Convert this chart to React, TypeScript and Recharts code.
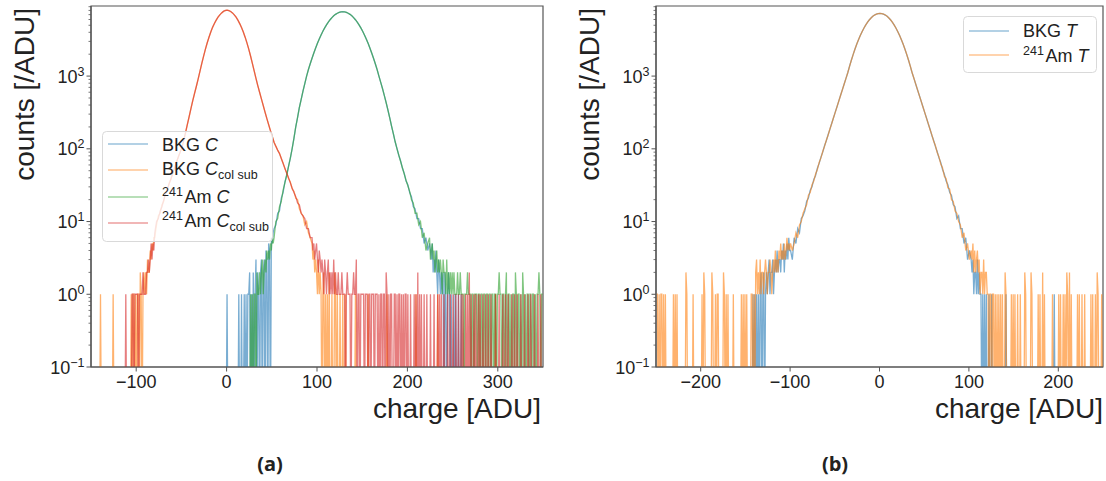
import React from "react";
import { LineChart, Line, XAxis, YAxis, Legend, ReferenceArea } from "recharts";

// ---- panel (a): collected charge per pixel, 1 ADU bins ----
// cores are read every 2 ADU, tails are listed bin by bin
const colSubCoreStart = -80;
const amCsubCore = [
  7, 10, 11, 14, 16, 20, 24, 28, 33, 39, 46, 55, 65, 77, 89, 104, 129, 166, 214, 275,
  355, 457, 575, 720, 910, 1160, 1480, 1870, 2330, 2850, 3420, 4040, 4680, 5280, 5890, 6460, 6950, 7400, 7750, 7980,
  8070,
  7960, 7740, 7390, 6940, 6450, 5880, 5270, 4670, 4040, 3430, 2860, 2350, 1890, 1500, 1180, 930, 740, 600, 485, 395,
  320, 262, 215, 178, 148, 123, 108, 96, 86, 74, 63, 54, 46, 40, 34, 29, 25, 22, 18, 17,
  13, 12, 11, 8, 8, 6,
];
const bkgCsubCore = [
  6, 9, 12, 13, 17, 19, 25, 27, 34, 38, 47, 54, 66, 76, 90, 103, 130, 165, 215, 274,
  356, 456, 576, 719, 911, 1159, 1481, 1869, 2331, 2849, 3421, 4039, 4681, 5279, 5891, 6459, 6951, 7399, 7751, 7979,
  8068,
  7961, 7739, 7391, 6939, 6451, 5879, 5271, 4669, 4041, 3429, 2861, 2349, 1891, 1499, 1181, 929, 741, 599, 486, 394,
  321, 261, 216, 177, 149, 122, 109, 95, 87, 73, 64, 53, 47, 39, 35, 28, 26, 21, 20, 15,
  13, 12, 9, 10, 7, 6,
];
const rawCoreStart = 52;
const amCCore = [
  6, 10, 11, 16, 19, 27, 34, 44, 57, 75, 100, 140, 200, 270, 370, 480, 620, 790, 1000, 1230,
  1480, 1760, 2080, 2440, 2820, 3240, 3680, 4140, 4600, 5070, 5530, 5960, 6370, 6750, 7060, 7310, 7500, 7620,
  7660,
  7620, 7500, 7310, 7060, 6750, 6370, 5960, 5530, 5070, 4600, 4140, 3680, 3240, 2820, 2440, 2080, 1760, 1480, 1230, 1000,
  820, 670, 540, 430, 340, 265, 205, 160, 125, 100, 82, 67, 55, 45, 37, 31, 26, 20, 18, 13,
  13, 9, 10, 6, 7, 4, 5,
];
const bkgCCore = [
  8, 9, 13, 14, 21, 25, 35, 43, 58, 74, 101, 139, 201, 269, 371, 479, 621, 789, 1001, 1229,
  1481, 1759, 2081, 2439, 2821, 3239, 3681, 4139, 4601, 5069, 5531, 5959, 6371, 6749, 7061, 7309, 7501, 7619,
  7662,
  7619, 7501, 7309, 7061, 6749, 6371, 5959, 5531, 5069, 4601, 4139, 3681, 3239, 2821, 2439, 2081, 1759, 1481, 1229, 1001,
  819, 671, 539, 431, 339, 266, 204, 161, 124, 101, 81, 68, 54, 46, 36, 32, 25, 22, 16, 15,
  11, 11, 8, 8, 5, 6, 4,
];

// [bin, count]
const bkgCsubTail = [
  [-140, 1], [-126, 1], [-106, 1], [-104, 1], [-103, 1], [-101, 1], [-99, 1], [-98, 1], [-96, 2], [-95, 1],
  [-93, 1], [-92, 2], [-91, 1], [-90, 2], [-89, 1], [-88, 3], [-87, 2], [-86, 2], [-85, 4], [-84, 3],
  [-83, 5], [-82, 4], [-81, 6],
  [94, 5], [95, 3], [96, 4], [97, 2], [98, 3], [99, 2], [100, 1], [101, 3], [102, 1], [103, 2], [104, 1],
  [106, 1], [107, 2], [109, 1], [111, 1], [113, 2], [116, 1], [119, 2], [120, 1], [122, 1], [125, 1],
  [128, 1], [131, 1], [142, 1], [156, 1], [177, 1], [209, 1], [233, 1], [297, 1],
];
const amCsubTail = [
  [-112, 1], [-105, 1], [-104, 1], [-102, 1], [-101, 1], [-100, 1], [-99, 1], [-97, 1], [-96, 1], [-95, 1],
  [-94, 1], [-93, 2], [-92, 1], [-91, 1], [-90, 1], [-89, 2], [-88, 2], [-87, 3], [-86, 2], [-85, 3],
  [-84, 5], [-83, 3], [-82, 5], [-81, 4],
  [94, 6], [95, 4], [96, 5], [97, 3], [98, 4], [99, 5], [100, 3], [101, 2], [102, 4], [103, 3], [104, 2],
  [105, 3], [106, 2], [107, 1], [108, 3], [109, 2], [110, 1], [111, 2], [112, 3], [113, 1], [114, 2],
  [115, 1], [116, 2], [117, 1], [118, 3], [119, 1], [120, 2], [121, 1], [122, 1], [123, 2], [124, 1],
  [125, 1], [126, 1], [127, 2], [128, 1], [129, 1], [130, 1], [132, 1], [133, 2], [134, 1], [135, 1],
  [136, 1], [138, 1], [139, 1], [140, 2], [141, 1], [142, 1], [143, 3], [145, 1], [146, 1], [148, 1],
  [149, 1], [150, 1], [151, 1], [153, 1], [154, 1], [155, 1], [157, 1], [158, 1], [160, 1], [161, 1],
  [162, 1], [164, 1], [165, 1], [166, 1], [168, 1], [170, 1], [171, 1], [173, 1], [174, 1], [176, 2],
  [177, 1], [179, 1], [181, 1], [182, 1], [185, 1], [186, 1], [188, 1], [190, 1], [191, 1], [193, 1],
  [195, 1], [197, 1], [198, 1], [200, 1], [203, 1], [207, 1], [209, 1], [211, 2], [213, 1], [215, 1],
  [218, 1], [221, 1], [225, 1], [229, 1], [233, 1], [235, 1], [237, 1], [240, 1], [244, 1], [247, 1],
  [250, 1], [253, 1], [256, 1], [259, 1], [261, 1], [264, 1], [266, 1], [268, 2], [270, 1], [273, 1],
  [275, 1], [278, 1], [280, 1], [283, 1], [286, 1], [289, 1], [292, 1], [297, 1], [301, 1], [305, 1],
  [308, 1], [311, 1], [315, 1], [318, 1], [321, 1], [325, 1], [329, 1], [333, 1], [336, 1], [340, 1],
  [344, 1], [347, 1],
];
const amCTail = [
  [26, 1], [28, 1], [30, 1], [31, 1], [33, 2], [34, 1], [35, 1], [36, 2], [37, 1], [38, 2], [39, 3],
  [40, 1], [41, 2], [42, 3], [43, 2], [44, 4], [45, 3], [46, 4], [47, 3], [48, 5], [49, 4], [50, 6], [51, 5],
  [224, 6], [225, 3], [226, 4], [227, 5], [228, 3], [229, 4], [230, 2], [231, 3], [232, 4], [233, 2],
  [234, 3], [235, 2], [236, 3], [237, 2], [238, 1], [239, 3], [240, 2], [241, 2], [242, 1], [243, 3],
  [244, 1], [245, 2], [246, 1], [247, 2], [248, 1], [249, 2], [250, 1], [251, 2], [252, 1], [253, 1],
  [254, 1], [255, 2], [256, 1], [257, 1], [258, 2], [259, 1], [260, 1], [261, 1], [263, 1], [264, 1],
  [265, 1], [266, 2], [267, 1], [268, 1], [269, 1], [271, 1], [272, 1], [274, 1], [275, 1], [276, 1],
  [278, 1], [279, 1], [281, 1], [282, 1], [284, 1], [285, 1], [287, 1], [288, 1], [290, 1], [291, 1],
  [293, 1], [294, 1], [296, 1], [297, 1], [299, 1], [300, 1], [301, 2], [302, 1], [303, 1], [305, 1],
  [306, 1], [308, 1], [309, 2], [311, 1], [312, 1], [314, 1], [316, 1], [317, 1], [319, 2], [320, 1],
  [322, 1], [323, 1], [325, 1], [327, 2], [328, 1], [330, 1], [332, 1], [333, 1], [335, 1], [336, 1],
  [338, 1], [339, 1], [341, 1], [343, 1], [344, 1], [345, 2], [346, 1], [348, 1], [349, 1],
];
const bkgCTail = [
  [0, 1], [13, 1], [16, 1], [19, 1], [21, 1], [23, 1], [24, 1], [25, 2], [27, 1], [29, 2], [31, 1],
  [32, 3], [34, 2], [35, 1], [37, 2], [38, 3], [40, 2], [41, 3], [43, 4], [44, 3], [46, 5], [47, 4],
  [49, 6], [50, 5], [51, 7],
  [224, 5], [225, 4], [226, 3], [227, 5], [228, 2], [229, 3], [230, 2], [231, 4], [232, 2], [233, 1],
  [234, 3], [235, 2], [236, 1], [237, 2], [238, 1], [239, 2], [241, 2], [242, 1], [244, 1], [245, 2],
  [246, 1], [248, 1], [251, 1], [253, 1], [256, 1], [259, 1],
];

// ---- panel (b): T, 1 ADU bins ----
const tCoreStart = -100;
const bkgTCore = [
  4, 3, 6, 5, 8, 7, 11, 12, 14, 19, 21, 27, 30, 38, 43, 54, 63, 77, 90, 110,
  129, 156, 185, 223, 265, 319, 379, 456, 544, 651, 777, 931, 1110, 1364, 1649, 1976, 2336, 2734, 3158, 3613,
  4075, 4550, 5025, 5484, 5909, 6298, 6633, 6909, 7113, 7239,
  7280,
  7237, 7115, 6907, 6635, 6296, 5911, 5482, 5027, 4548, 4077, 3611, 3160, 2732, 2338, 1974, 1651, 1362, 1112, 929, 779,
  649, 546, 454, 381, 317, 267, 221, 187, 154, 131, 108, 92, 75, 65, 52, 45, 36, 32, 25, 23,
  17, 16, 11, 12, 8, 8, 5, 6, 3, 4,
];
const amTCore = [
  5, 4, 5, 7, 6, 9, 10, 13, 15, 17, 23, 25, 32, 36, 45, 52, 65, 75, 92, 108,
  131, 154, 187, 221, 267, 317, 381, 454, 546, 649, 779, 929, 1112, 1362, 1651, 1974, 2338, 2732, 3160, 3611,
  4077, 4548, 5027, 5482, 5911, 6296, 6635, 6907, 7115, 7237,
  7282,
  7240, 7112, 6910, 6632, 6299, 5908, 5485, 5024, 4551, 4074, 3614, 3157, 2735, 2335, 1977, 1648, 1365, 1109, 932, 776,
  652, 543, 457, 378, 320, 264, 224, 184, 157, 128, 111, 89, 78, 62, 55, 42, 39, 29, 28, 20,
  19, 14, 13, 10, 9, 6, 7, 4, 5, 3,
];
const bkgTTail = [
  [-142, 1], [-140, 1], [-138, 1], [-136, 1], [-134, 1], [-133, 2], [-131, 1], [-130, 2], [-128, 1],
  [-127, 2], [-126, 1], [-125, 2], [-124, 3], [-123, 1], [-122, 2], [-121, 2], [-120, 3], [-119, 1],
  [-118, 2], [-117, 3], [-116, 2], [-115, 4], [-114, 2], [-113, 3], [-112, 3], [-111, 2], [-110, 4],
  [-109, 3], [-108, 5], [-107, 2], [-106, 4], [-105, 3], [-104, 5], [-103, 3], [-102, 6], [-101, 4],
  [102, 3], [103, 2], [104, 3], [105, 1], [106, 2], [107, 2], [108, 1], [109, 3], [110, 1], [111, 2],
  [112, 1], [113, 1], [115, 1], [117, 1], [119, 1], [122, 1], [125, 1], [141, 1], [195, 1],
];
const amTTail = [
  [-250, 1], [-249, 1], [-247, 1], [-245, 1], [-244, 1], [-242, 1], [-240, 1], [-231, 1], [-229, 1],
  [-227, 1], [-217, 2], [-216, 1], [-209, 1], [-199, 1], [-197, 2], [-196, 1], [-188, 2], [-187, 1],
  [-184, 1], [-182, 1], [-181, 1], [-175, 2], [-174, 1], [-172, 1], [-170, 1], [-164, 1], [-155, 1],
  [-153, 1], [-151, 1], [-149, 1], [-144, 1], [-143, 1], [-141, 1], [-139, 2], [-138, 3], [-137, 1],
  [-136, 2], [-135, 1], [-134, 3], [-133, 1], [-132, 2], [-131, 2], [-130, 1], [-129, 2], [-128, 3],
  [-127, 2], [-126, 1], [-125, 2], [-124, 2], [-123, 3], [-122, 2], [-121, 1], [-120, 2], [-119, 3],
  [-118, 2], [-117, 4], [-116, 2], [-115, 3], [-114, 2], [-113, 4], [-112, 3], [-111, 5], [-110, 3],
  [-109, 4], [-108, 3], [-107, 5], [-106, 3], [-105, 4], [-104, 6], [-103, 4], [-102, 5], [-101, 4],
  [102, 4], [103, 3], [104, 5], [105, 2], [106, 4], [107, 2], [108, 3], [109, 4], [110, 2], [111, 3],
  [112, 1], [113, 2], [114, 2], [115, 1], [116, 3], [117, 1], [118, 2], [119, 2], [120, 1], [121, 1],
  [123, 1], [124, 1], [126, 1], [127, 1], [129, 1], [131, 1], [133, 1], [135, 1], [137, 1], [140, 2],
  [141, 1], [147, 1], [149, 1], [151, 1], [154, 1], [157, 1], [162, 2], [163, 1], [169, 2], [170, 1],
  [177, 1], [179, 1], [182, 2], [184, 1], [193, 1], [200, 1], [202, 1], [205, 1], [207, 1], [209, 2],
  [210, 1], [212, 2], [214, 1], [221, 1], [223, 1], [226, 1], [229, 1], [236, 1], [238, 1], [241, 1],
  [243, 2], [244, 1], [248, 1],
];

// axes
const xRangeA = [-150, 350];
const xTicksA = [-100, 0, 100, 200, 300];
const xRangeB = [-250, 250];
const xTicksB = [-200, -100, 0, 100, 200];
const yRange = [0.1, 9200];
const yMajor = [0.1, 1, 10, 100, 1000];
const yMinor = [
  0.2, 0.3, 0.4, 0.5, 0.6, 0.7, 0.8, 0.9, 2, 3, 4, 5, 6, 7, 8, 9,
  20, 30, 40, 50, 60, 70, 80, 90, 200, 300, 400, 500, 600, 700, 800, 900,
  2000, 3000, 4000, 5000, 6000, 7000, 8000, 9000,
];

const EMPTY = 0.01; // empty bin, sits below the 10^-1 floor so the trace drops out of the frame
const FONT = "'Liberation Sans', Arial, sans-serif";
const INK = "#222";
const FRAME = "#555";
const C = { blue: "#1f77b4", orange: "#ff7f0e", green: "#2ca02c", red: "#d62728" };

type Hist = { coreLo: number; coreHi: number; bins: Map<number, number> };

function hist(coreStart: number, core: number[], tail: number[][]): Hist {
  const bins = new Map<number, number>();
  core.forEach((c, i) => bins.set(coreStart + 2 * i, c));
  tail.forEach(([b, c]) => bins.set(b, c));
  // a core value stands for its bin and the next one
  return { coreLo: coreStart, coreHi: coreStart + 2 * (core.length - 1) + 1, bins };
}

// one row per 1 ADU bin, placed at the bin centre; bins inside a core that were not
// read on their own are left open (null) and the line joins across them
function buildRows(lo: number, hi: number, hists: Record<string, Hist>) {
  const rows: Record<string, number | null>[] = [];
  for (let b = lo; b < hi; b++) {
    const row: Record<string, number | null> = { x: b + 0.5 };
    for (const k in hists) {
      const h = hists[k];
      const v = h.bins.get(b);
      if (v !== undefined) row[k] = v;
      else row[k] = b > h.coreLo && b <= h.coreHi ? null : EMPTY;
    }
    rows.push(row);
  }
  return rows;
}

const dataA = buildRows(xRangeA[0], xRangeA[1], {
  bkgC: hist(rawCoreStart, bkgCCore, bkgCTail),
  bkgCsub: hist(colSubCoreStart, bkgCsubCore, bkgCsubTail),
  amC: hist(rawCoreStart, amCCore, amCTail),
  amCsub: hist(colSubCoreStart, amCsubCore, amCsubTail),
});
const dataB = buildRows(xRangeB[0], xRangeB[1], {
  bkgT: hist(tCoreStart, bkgTCore, bkgTTail),
  amT: hist(tCoreStart, amTCore, amTTail),
});

const minus = (v: number) => (v < 0 ? "\u2212" + Math.abs(v) : String(v));

const XTick = (p: any) => {
  const { x, y, payload } = p;
  return (
    <g>
      <line x1={x} x2={x} y1={y} y2={y + 4.5} stroke={FRAME} strokeWidth={1} />
      <text x={x} y={y + 21} textAnchor="middle" fontSize={18} fill={INK} fontFamily={FONT}>
        {minus(payload.value)}
      </text>
    </g>
  );
};

const YTick = (p: any) => {
  const { x, y, payload } = p;
  const v = payload.value;
  if (!yMajor.includes(v)) {
    return <line x1={x - 2.5} x2={x} y1={y} y2={y} stroke={FRAME} strokeWidth={0.8} />;
  }
  const e = Math.round(Math.log10(v));
  return (
    <g>
      <line x1={x - 4.5} x2={x} y1={y} y2={y} stroke={FRAME} strokeWidth={1} />
      <text x={x - 6.5} y={y + 6.5} textAnchor="end" fontSize={18} fill={INK} fontFamily={FONT}>
        10
        <tspan dy={-7} fontSize={12.5}>
          {minus(e)}
        </tspan>
      </text>
    </g>
  );
};

type Series = { key: string; color: string; label: React.ReactNode };

const Sup = ({ t }: { t: string }) => (
  <>
    <tspan dy={-7} fontSize={12.5}>
      {t}
    </tspan>
    <tspan dy={7}>{"\u200A"}</tspan>
  </>
);
const Sub = ({ t }: { t: string }) => (
  <tspan dy={4} fontSize={12.5}>
    {t}
  </tspan>
);

const seriesA: Series[] = [
  { key: "bkgC", color: C.blue, label: <>BKG <tspan fontStyle="italic">C</tspan></> },
  { key: "bkgCsub", color: C.orange, label: <>BKG <tspan fontStyle="italic">C</tspan><Sub t="col sub" /></> },
  { key: "amC", color: C.green, label: <><Sup t="241" />Am <tspan fontStyle="italic">C</tspan></> },
  { key: "amCsub", color: C.red, label: <><Sup t="241" />Am <tspan fontStyle="italic">C</tspan><Sub t="col sub" /></> },
];
const seriesB: Series[] = [
  { key: "bkgT", color: C.blue, label: <>BKG <tspan fontStyle="italic">T</tspan></> },
  { key: "amT", color: C.orange, label: <><Sup t="241" />Am <tspan fontStyle="italic">T</tspan></> },
];

type Box = { left: number; top: number; width: number; height: number; rows: number[]; baselines: number[] };

const LegendBox = ({ series, box }: { series: Series[]; box: Box }) => (
  <svg width={box.width} height={box.height} style={{ display: "block" }}>
    <rect x={0.5} y={0.5} width={box.width - 1} height={box.height - 1} rx={4}
      fill="rgba(255,255,255,0.8)" stroke="#d9d9d9" />
    {series.map((s, i) => (
      <g key={s.key}>
        <line x1={6} x2={46} y1={box.rows[i]} y2={box.rows[i]} stroke={s.color} strokeOpacity={0.45} strokeWidth={1.6} />
        <text x={60} y={box.baselines[i]} fontSize={18} fill={INK} fontFamily={FONT}>
          {s.label}
        </text>
      </g>
    ))}
  </svg>
);

function Panel(props: {
  width: number; right: number; data: Record<string, number | null>[]; xRange: number[]; xTicks: number[];
  series: Series[]; box: Box;
}) {
  const { width, right, data, xRange, xTicks, series, box } = props;
  const yTicks = [...yMajor, ...yMinor];
  return (
    <LineChart width={width} height={440} data={data} margin={{ top: 6, right, bottom: 0, left: 0 }}>
      <XAxis dataKey="x" type="number" domain={xRange} ticks={xTicks} interval={0} allowDataOverflow
        height={73} tickSize={0} tickMargin={0} tickLine={false} tick={(p: any) => <XTick {...p} />}
        axisLine={{ stroke: FRAME, strokeWidth: 1.2 }} />
      <YAxis type="number" scale="log" domain={yRange} allowDataOverflow ticks={yTicks} interval={0}
        width={91} tickSize={0} tickMargin={0} tickLine={false} tick={(p: any) => <YTick {...p} />}
        axisLine={{ stroke: FRAME, strokeWidth: 1.2 }} />
      {series.map((s) => (
        <Line key={s.key} dataKey={s.key} type="linear" connectNulls stroke={s.color} strokeOpacity={0.6}
          strokeWidth={1.3} dot={false} activeDot={false} isAnimationActive={false} />
      ))}
      <ReferenceArea x1={xRange[0]} x2={xRange[1]} y1={yRange[0]} y2={yRange[1]} ifOverflow="visible"
        fill="none" fillOpacity={0} stroke={FRAME} strokeWidth={1.2} />
      <Legend layout="horizontal" verticalAlign="middle" align="center"
        wrapperStyle={{ left: box.left, top: box.top, width: box.width, height: box.height }}
        content={() => <LegendBox series={series} box={box} />} />
    </LineChart>
  );
}

const boxA: Box = { left: 102, top: 131, width: 171, height: 111, rows: [13, 39, 66, 92], baselines: [20, 44, 72, 96] };
const boxB: Box = { left: 398, top: 16, width: 134, height: 57, rows: [15, 39], baselines: [21, 46] };

export default function App() {
  return (
    <div style={{ position: "absolute", left: 0, top: 0, width: 1106, height: 481, background: "#fff", overflow: "hidden" }}>
      <div style={{ position: "absolute", left: 0, top: 0 }}>
        <Panel width={560} right={17} data={dataA} xRange={xRangeA} xTicks={xTicksA} series={seriesA} box={boxA} />
      </div>
      <div style={{ position: "absolute", left: 565, top: 0 }}>
        <Panel width={541} right={3} data={dataB} xRange={xRangeB} xTicks={xTicksB} series={seriesB} box={boxB} />
      </div>
      <svg width={1106} height={481} style={{ position: "absolute", left: 0, top: 0, pointerEvents: "none" }}>
        <g fontFamily={FONT} fontSize={28} fill={INK}>
          <text x={541} y={418} textAnchor="end">charge [ADU]</text>
          <text transform="translate(34,8) rotate(-90)" textAnchor="end">counts [/ADU]</text>
          <text x={1103} y={418} textAnchor="end">charge [ADU]</text>
          <text transform="translate(599,8) rotate(-90)" textAnchor="end">counts [/ADU]</text>
        </g>
        <g fontFamily="'Open Sans', sans-serif" fontWeight={700} fontSize={20} fill={INK} textAnchor="middle">
          <text x={270} y={471}>(a)</text>
          <text x={835} y={471}>(b)</text>
        </g>
      </svg>
    </div>
  );
}
